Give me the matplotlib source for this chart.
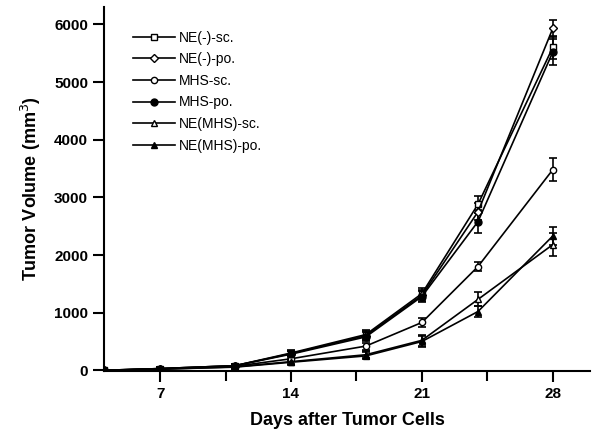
import matplotlib
matplotlib.use('Agg')
import matplotlib.pyplot as plt
from matplotlib.lines import Line2D
from matplotlib.ticker import MultipleLocator

plt.rcParams['font.family'] = ['Liberation Sans', 'DejaVu Sans']

days = [4, 7, 11, 14, 18, 21, 24, 28]

# mean tumor volume (mm3) per group
ne_sc = [0, 30, 80, 300, 620, 1330, 2880, 5600]
ne_po = [0, 30, 80, 290, 600, 1300, 2750, 5930]
mhs_sc = [0, 25, 70, 200, 420, 830, 1800, 3480]
mhs_po = [0, 30, 80, 280, 580, 1280, 2580, 5520]
nemhs_sc = [0, 20, 60, 150, 270, 520, 1230, 2180]
nemhs_po = [0, 20, 55, 140, 250, 500, 1020, 2330]

# error bars
ne_sc_err = [0, 20, 30, 50, 80, 100, 150, 200]
ne_po_err = [0, 20, 30, 50, 80, 100, 150, 150]
mhs_sc_err = [0, 20, 30, 40, 60, 80, 80, 200]
mhs_po_err = [0, 20, 30, 50, 80, 100, 200, 220]
nemhs_sc_err = [0, 20, 30, 40, 60, 100, 120, 200]
nemhs_po_err = [0, 20, 30, 40, 60, 100, 100, 150]

labels = ['NE(-)-sc.', 'NE(-)-po.', 'MHS-sc.', 'MHS-po.', 'NE(MHS)-sc.', 'NE(MHS)-po.']
series = [ne_sc, ne_po, mhs_sc, mhs_po, nemhs_sc, nemhs_po]
errors = [ne_sc_err, ne_po_err, mhs_sc_err, mhs_po_err, nemhs_sc_err, nemhs_po_err]
markers = ['s', 'D', 'o', 'o', '^', '^']
faces = ['white', 'white', 'white', 'black', 'white', 'black']
sizes = [5, 4.5, 4.5, 5, 5, 5]

fig = plt.figure(figsize=(6.01, 4.44), dpi=100)
ax = fig.add_axes([0.173, 0.164, 0.809, 0.82])

handles = []
for y, e, lab, m, fc, ms in zip(series, errors, labels, markers, faces, sizes):
    ax.errorbar(days, y, yerr=e, color='black', marker=m, mfc=fc, mec='black',
                ms=ms, lw=1.2, capsize=3, elinewidth=1.2, capthick=1.2)
    handles.append(Line2D([], [], color='black', marker=m, mfc=fc, mec='black',
                          ms=ms, lw=1.2, label=lab))

ax.set_xlim(4, 30)
ax.set_ylim(-15, 6300)
ax.set_xticks([7, 14, 21, 28])
ax.xaxis.set_minor_locator(MultipleLocator(3.5))
ax.set_yticks(range(0, 6001, 1000))
ax.spines['top'].set_visible(False)
ax.spines['right'].set_visible(False)
ax.spines['left'].set_linewidth(1.5)
ax.spines['bottom'].set_linewidth(1.5)
ax.tick_params(which='major', direction='out', length=8, width=1.5, labelsize=11)
ax.tick_params(which='minor', direction='out', length=7, width=1.5)
for t in ax.get_xticklabels() + ax.get_yticklabels():
    t.set_fontweight('bold')

ax.set_xlabel('Days after Tumor Cells', fontsize=13, fontweight='bold', labelpad=8)
ax.set_ylabel('Tumor Volume (mm$^3$)', fontsize=13, fontweight='bold', labelpad=8)

ax.legend(handles=handles, loc='upper left', bbox_to_anchor=(0.035, 0.97), frameon=False,
          fontsize=10, handlelength=3, labelspacing=0.55, handletextpad=0.3)

fig.savefig('out.png', dpi=100)
